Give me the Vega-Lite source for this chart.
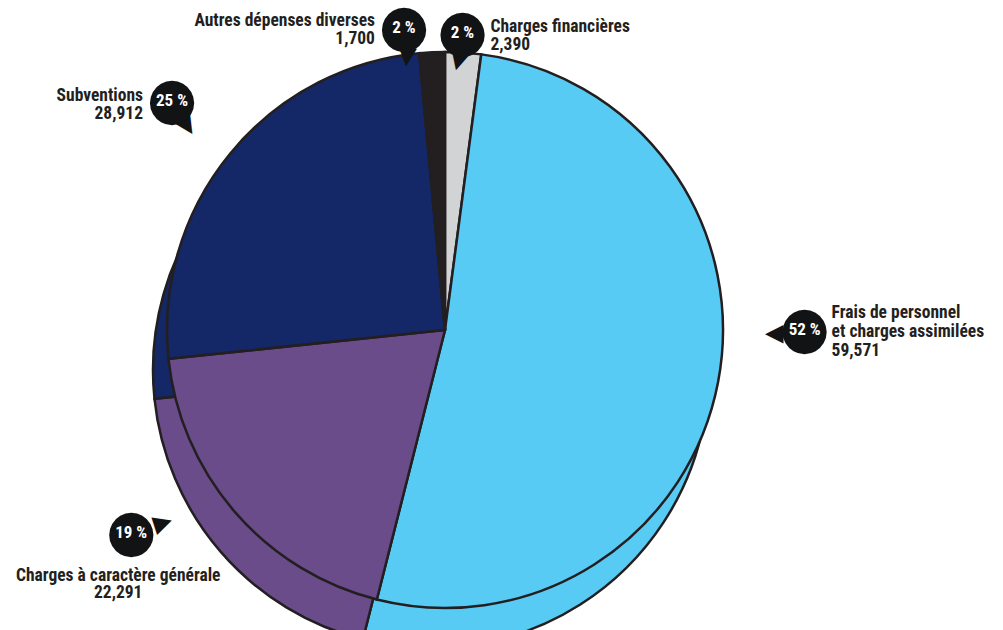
{
  "$schema": "https://vega.github.io/schema/vega-lite/v6.json",
  "width": 890,
  "height": 660,
  "padding": {"left": 0, "top": 0, "right": 113, "bottom": 0},
  "autosize": {"type": "none"},
  "background": "white",
  "view": {"stroke": null},
  "config": {"text": {"font": "Roboto Condensed, DejaVu Sans Condensed, Roboto, sans-serif"}},
  "data": {
    "values": [
      {"ord": 1, "name": "Charges financières", "lines": ["Charges financières"], "value": 2390, "pct": "2 %"},
      {"ord": 2, "name": "Frais de personnel", "lines": ["Frais de personnel", "et charges assimilées"], "value": 59571, "pct": "52 %"},
      {"ord": 3, "name": "Charges à caractère générale", "lines": ["Charges à caractère générale"], "value": 22291, "pct": "19 %"},
      {"ord": 4, "name": "Subventions", "lines": ["Subventions"], "value": 28912, "pct": "25 %"},
      {"ord": 5, "name": "Autres dépenses diverses", "lines": ["Autres dépenses diverses"], "value": 1700, "pct": "2 %"}
    ]
  },
  "transform": [
    {"calculate": "join(datum.lines, '\\n') + '\\n' + format(datum.value, ',')", "as": "label"}
  ],
  "encoding": {
    "theta": {"field": "value", "type": "quantitative", "stack": true},
    "order": {"field": "ord", "type": "quantitative"}
  },
  "layer": [
    {
      "mark": {"type": "arc", "outerRadius": 278, "stroke": "#231f20", "strokeWidth": 2.5, "xOffset": -14, "yOffset": 40},
      "encoding": {
        "color": {"field": "name", "type": "nominal", "legend": null,
          "scale": {"domain": ["Charges financières", "Frais de personnel", "Charges à caractère générale", "Subventions", "Autres dépenses diverses"],
                    "range": ["#d1d3d4", "#58cbf5", "#6a4c8b", "#142766", "#231f20"]}}
      }
    },
    {
      "mark": {"type": "arc", "outerRadius": 278, "stroke": "#231f20", "strokeWidth": 2.5},
      "encoding": {
        "color": {"field": "name", "type": "nominal", "legend": null}
      }
    },
    {
      "encoding": {"opacity": {"condition": {"test": "datum.ord === 1", "value": 1}, "value": 0}},
      "layer": [
        {"mark": {"type": "text", "text": "▼", "radius": 298, "xOffset": -6, "yOffset": 28, "angle": 15, "fontSize": 24, "font": "DejaVu Sans", "color": "#111314", "baseline": "middle", "align": "center"}},
        {"mark": {"type": "text", "text": "●", "radius": 298, "dx": -2, "dy": 0, "fontSize": 58, "font": "DejaVu Sans", "color": "#111314", "baseline": "middle", "align": "center"}},
        {"mark": {"type": "text", "radius": 298, "dx": -2, "dy": 0, "fontSize": 17, "fontWeight": "bold", "color": "white", "baseline": "middle", "align": "center"}, "encoding": {"text": {"field": "pct"}}},
        {"mark": {"type": "text", "radius": 298, "dx": 26, "dy": -6, "fontSize": 17.5, "fontWeight": "bold", "color": "#231f20", "baseline": "middle", "align": "left", "lineBreak": "\n", "lineHeight": 18}, "encoding": {"text": {"field": "label"}}}
      ]
    },
    {
      "encoding": {"opacity": {"condition": {"test": "datum.ord === 5", "value": 1}, "value": 0}},
      "layer": [
        {"mark": {"type": "text", "text": "▼", "radius": 302, "xOffset": -24, "yOffset": 28, "angle": 5, "fontSize": 24, "font": "DejaVu Sans", "color": "#111314", "baseline": "middle", "align": "center"}},
        {"mark": {"type": "text", "text": "●", "radius": 302, "dx": -27, "dy": 0, "fontSize": 58, "font": "DejaVu Sans", "color": "#111314", "baseline": "middle", "align": "center"}},
        {"mark": {"type": "text", "radius": 302, "dx": -27, "dy": 0, "fontSize": 17, "fontWeight": "bold", "color": "white", "baseline": "middle", "align": "center"}, "encoding": {"text": {"field": "pct"}}},
        {"mark": {"type": "text", "radius": 302, "dx": -56, "dy": -7, "fontSize": 17.5, "fontWeight": "bold", "color": "#231f20", "baseline": "middle", "align": "right", "lineBreak": "\n", "lineHeight": 18}, "encoding": {"text": {"field": "label"}}}
      ]
    },
    {
      "encoding": {"opacity": {"condition": {"test": "datum.ord === 4", "value": 1}, "value": 0}},
      "layer": [
        {"mark": {"type": "text", "text": "▼", "radius": 357, "xOffset": 18, "yOffset": 22, "angle": -33, "fontSize": 24, "font": "DejaVu Sans", "color": "#111314", "baseline": "middle", "align": "center"}},
        {"mark": {"type": "text", "text": "●", "radius": 357, "dx": 3, "dy": -3, "fontSize": 58, "font": "DejaVu Sans", "color": "#111314", "baseline": "middle", "align": "center"}},
        {"mark": {"type": "text", "radius": 357, "dx": 3, "dy": -3, "fontSize": 17, "fontWeight": "bold", "color": "white", "baseline": "middle", "align": "center"}, "encoding": {"text": {"field": "pct"}}},
        {"mark": {"type": "text", "radius": 357, "dx": -26, "dy": -8, "fontSize": 17.5, "fontWeight": "bold", "color": "#231f20", "baseline": "middle", "align": "right", "lineBreak": "\n", "lineHeight": 18}, "encoding": {"text": {"field": "label"}}}
      ]
    },
    {
      "encoding": {"opacity": {"condition": {"test": "datum.ord === 2", "value": 1}, "value": 0}},
      "layer": [
        {"mark": {"type": "text", "text": "▼", "radius": 358, "xOffset": -22, "yOffset": -63, "angle": 90, "fontSize": 24, "font": "DejaVu Sans", "color": "#111314", "baseline": "middle", "align": "center"}},
        {"mark": {"type": "text", "text": "●", "radius": 358, "dx": 8, "dy": -67, "fontSize": 58, "font": "DejaVu Sans", "color": "#111314", "baseline": "middle", "align": "center"}},
        {"mark": {"type": "text", "radius": 358, "dx": 8, "dy": -67, "fontSize": 17, "fontWeight": "bold", "color": "white", "baseline": "middle", "align": "center"}, "encoding": {"text": {"field": "pct"}}},
        {"mark": {"type": "text", "radius": 358, "dx": 35, "dy": -84, "fontSize": 17.5, "fontWeight": "bold", "color": "#231f20", "baseline": "middle", "align": "left", "lineBreak": "\n", "lineHeight": 19}, "encoding": {"text": {"field": "label"}}}
      ]
    },
    {
      "encoding": {"opacity": {"condition": {"test": "datum.ord === 3", "value": 1}, "value": 0}},
      "layer": [
        {"mark": {"type": "text", "text": "▼", "radius": 374, "xOffset": 0, "yOffset": -51, "angle": -108, "fontSize": 24, "font": "DejaVu Sans", "color": "#111314", "baseline": "middle", "align": "center"}},
        {"mark": {"type": "text", "text": "●", "radius": 374, "dx": -31, "dy": -42, "fontSize": 58, "font": "DejaVu Sans", "color": "#111314", "baseline": "middle", "align": "center"}},
        {"mark": {"type": "text", "radius": 374, "dx": -31, "dy": -42, "fontSize": 17, "fontWeight": "bold", "color": "white", "baseline": "middle", "align": "center"}, "encoding": {"text": {"field": "pct"}}},
        {"mark": {"type": "text", "radius": 374, "dx": -44, "dy": 1, "fontSize": 17.5, "fontWeight": "bold", "color": "#231f20", "baseline": "middle", "align": "center", "lineBreak": "\n", "lineHeight": 17}, "encoding": {"text": {"field": "label"}}}
      ]
    }
  ]
}
